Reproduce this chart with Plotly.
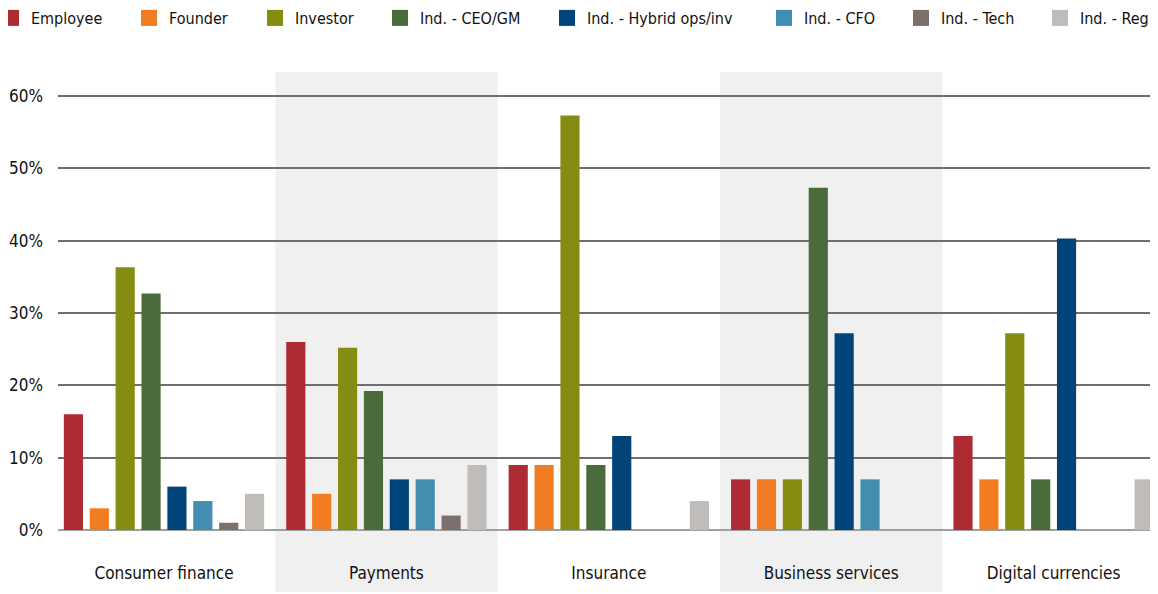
import plotly.graph_objects as go

categories = ["Consumer finance", "Payments", "Insurance", "Business services", "Digital currencies"]
series_names = ["Employee", "Founder", "Investor", "Ind. - CEO/GM", "Ind. - Hybrid ops/inv",
                "Ind. - CFO", "Ind. - Tech", "Ind. - Reg"]
employee = [0.16, 0.26, 0.09, 0.07, 0.13]
founder = [0.03, 0.05, 0.09, 0.07, 0.07]
investor = [0.363, 0.252, 0.573, 0.07, 0.272]
ceo_gm = [0.327, 0.192, 0.09, 0.473, 0.07]
hybrid = [0.06, 0.07, 0.13, 0.272, 0.403]
cfo = [0.04, 0.07, 0.0, 0.07, 0.0]
tech = [0.01, 0.02, 0.0, 0.0, 0.0]
reg = [0.05, 0.09, 0.04, 0.0, 0.07]
values = [employee, founder, investor, ceo_gm, hybrid, cfo, tech, reg]
colors = ["#AE2B33", "#F27C21", "#848C12", "#4A6B3A", "#00447A", "#438EB0", "#7D6F6C", "#C0BCB9"]
shaded = ["Payments", "Business services"]
legend_text_left = [31, 169, 295, 420, 587, 804, 941, 1080]

FONT = "DejaVu Sans Condensed, Liberation Sans Narrow, Roboto, sans-serif"
FS = 16
OFF = 8  # page body margin
W, H = 1158 - OFF, 594 - OFF
ML, MR, MT, MB = 58 - OFF, 0, 64, 64
PW = W - ML - MR
PH = H - MT - MB

fig = go.Figure()
for k, (name, vals, col) in enumerate(zip(series_names, values, colors)):
    lg = "legend" if k == 0 else f"legend{k + 1}"
    fig.add_trace(go.Bar(x=categories, y=vals, name=name, marker_color=col,
                         marker_line_width=0, showlegend=False, legend=lg))
    fig.add_trace(go.Scatter(x=[None], y=[None], mode="markers", name=name,
                             marker=dict(symbol="square", size=16, color=col, line_width=0),
                             showlegend=True, legend=lg, hoverinfo="skip"))

for cat in shaded:
    i = categories.index(cat)
    fig.add_shape(type="rect", xref="x", yref="paper", x0=i - 0.5, x1=i + 0.5,
                  y0=-(H - OFF - (H - MB)) / PH if False else -62 / PH,
                  y1=1.0, fillcolor="#F0F0F0", line_width=0, layer="below")

legend_font = dict(family=FONT, size=FS, color="#111111")
legends = {}
for k, tx in enumerate(legend_text_left):
    key = "legend" if k == 0 else f"legend{k + 1}"
    legends[key] = dict(orientation="h", x=(tx - OFF - 40 - ML) / PW, xanchor="left",
                        y=1 + (MT - (18 - OFF)) / PH, yanchor="middle", font=legend_font,
                        itemclick=False, itemdoubleclick=False, itemsizing="trace",
                        bgcolor="rgba(0,0,0,0)", borderwidth=0)

ppu = 222.4
x_left = (58 - 164) / ppu
x_right = (1158 - 164) / ppu

fig.update_layout(
    width=W, height=H,
    margin=dict(l=ML, r=MR, t=MT, b=MB, autoexpand=False),
    paper_bgcolor="white", plot_bgcolor="white",
    barmode="group", bargap=0.069, bargroupgap=0.26,
    font=dict(family=FONT, size=FS, color="#111111"),
    showlegend=True,
    **legends,
)
fig.update_xaxes(range=[x_left, x_right], showgrid=False, showline=False, ticks="",
                 ticklabelstandoff=31, tickfont=dict(family=FONT, size=FS + 1))
fig.update_yaxes(range=[0, 0.633], dtick=0.1, tickformat=".0%", showgrid=True,
                 gridcolor="#6E6E6E", gridwidth=1.5, zeroline=True, zerolinecolor="#A0A0A0",
                 zerolinewidth=2, showline=False, ticks="",
                 tickfont=dict(family=FONT, size=FS + 1),
                 ticklabelstandoff=14)

fig.write_html("out.html")
